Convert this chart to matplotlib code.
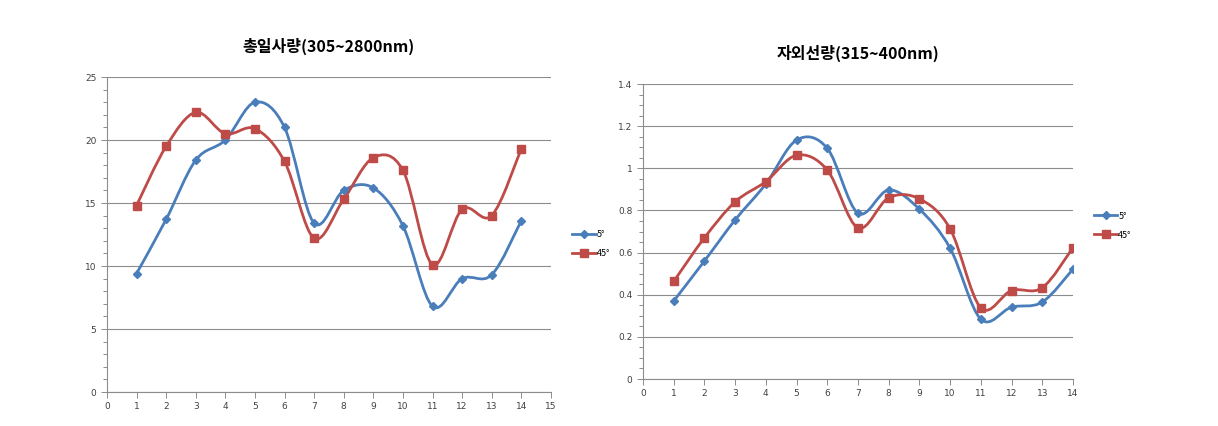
import numpy as np
import matplotlib.pyplot as plt
from matplotlib.path import Path
from matplotlib.patches import PathPatch
from matplotlib.ticker import MultipleLocator, FuncFormatter

plt.rcParams['font.family'] = ['Noto Sans CJK KR', 'DejaVu Sans']

# data
days = [1, 2, 3, 4, 5, 6, 7, 8, 9, 10, 11, 12, 13, 14]
total_5 = [9.4, 13.7, 18.4, 20.0, 23.0, 21.0, 13.4, 16.0, 16.2, 13.2, 6.8, 9.0, 9.3, 13.6]
total_45 = [14.8, 19.5, 22.2, 20.5, 20.9, 18.3, 12.2, 15.3, 18.6, 17.6, 10.1, 14.5, 14.0, 19.3]
uv_5 = [0.37, 0.56, 0.755, 0.926, 1.134, 1.095, 0.787, 0.897, 0.806, 0.621, 0.284, 0.341, 0.365, 0.521]
uv_45 = [0.463, 0.670, 0.841, 0.937, 1.062, 0.992, 0.717, 0.860, 0.855, 0.713, 0.338, 0.420, 0.433, 0.623]
labels = ['5°', '45°']
titles = ['총일사량(305~2800nm)', '자외선량(315~400nm)']

BLUE = '#4A7EBB'
RED = '#BE4B48'


def smooth_path(x, y):
    # excel-style smoothed line: cubic bezier through the points
    pts = np.column_stack([x, y]).astype(float)
    n = len(pts)
    verts = [pts[0]]
    codes = [Path.MOVETO]
    for i in range(n - 1):
        p0 = pts[i - 1] if i > 0 else pts[i]
        p1 = pts[i]
        p2 = pts[i + 1]
        p3 = pts[i + 2] if i + 2 < n else pts[i + 1]
        c1 = p1 + (p2 - p0) / 6
        c2 = p2 - (p3 - p1) / 6
        verts += [c1, c2, p2]
        codes += [Path.CURVE4] * 3
    return Path(verts, codes)


def draw_chart(ax, s5, s45, title, ymax, ymaj, ymin, xmax):
    ax.add_patch(PathPatch(smooth_path(days, s5), fill=False, edgecolor=BLUE, lw=2.0, zorder=3))
    ax.add_patch(PathPatch(smooth_path(days, s45), fill=False, edgecolor=RED, lw=2.0, zorder=3))
    ax.plot(days, s5, ls='none', marker='D', ms=4, color=BLUE, zorder=4)
    ax.plot(days, s45, ls='none', marker='s', ms=5.5, color=RED, zorder=4)
    # legend handles
    ax.plot([], [], color=BLUE, lw=2, marker='D', ms=4, label=labels[0])
    ax.plot([], [], color=RED, lw=2, marker='s', ms=5.5, label=labels[1])

    ax.set_xlim(0, xmax)
    ax.set_ylim(0, ymax)
    ax.xaxis.set_major_locator(MultipleLocator(1))
    ax.yaxis.set_major_locator(MultipleLocator(ymaj))
    ax.yaxis.set_minor_locator(MultipleLocator(ymin))
    ax.yaxis.set_major_formatter(FuncFormatter(lambda v, p: f'{v:g}'))
    ax.grid(axis='y', which='major', color='#8C8C8C', lw=0.8)
    ax.set_axisbelow(True)
    for s in ['top', 'right']:
        ax.spines[s].set_visible(False)
    for s in ['left', 'bottom']:
        ax.spines[s].set_color('#8C8C8C')
        ax.spines[s].set_linewidth(0.8)
    ax.tick_params(axis='both', which='both', colors='#8C8C8C', labelcolor='#404040',
                   labelsize=6.5, direction='out', width=0.7)
    ax.tick_params(axis='both', which='major', length=4)
    ax.tick_params(axis='y', which='minor', length=3)
    for t in ax.get_xticklabels() + ax.get_yticklabels():
        t.set_family('DejaVu Sans')
    ax.set_title(title, fontsize=11.5, fontweight='bold', pad=18)


fig = plt.figure(figsize=(12.18, 4.26), dpi=100)
ax1 = fig.add_axes([0.0878, 0.0798, 0.3645, 0.7394])
ax2 = fig.add_axes([0.5279, 0.1103, 0.3530, 0.6925])

draw_chart(ax1, total_5, total_45, titles[0], 25, 5, 1, 15)
draw_chart(ax2, uv_5, uv_45, titles[1], 1.4, 0.2, 0.05, 14)

ax1.legend(loc='center left', bbox_to_anchor=(1.03, 0.47), frameon=False, fontsize=6.5,
           handlelength=2.6, handletextpad=0.1, labelspacing=1.1)
ax2.legend(loc='center left', bbox_to_anchor=(1.03, 0.52), frameon=False, fontsize=6.5,
           handlelength=2.6, handletextpad=0.1, labelspacing=1.1)

fig.savefig('out.png', dpi=100)
